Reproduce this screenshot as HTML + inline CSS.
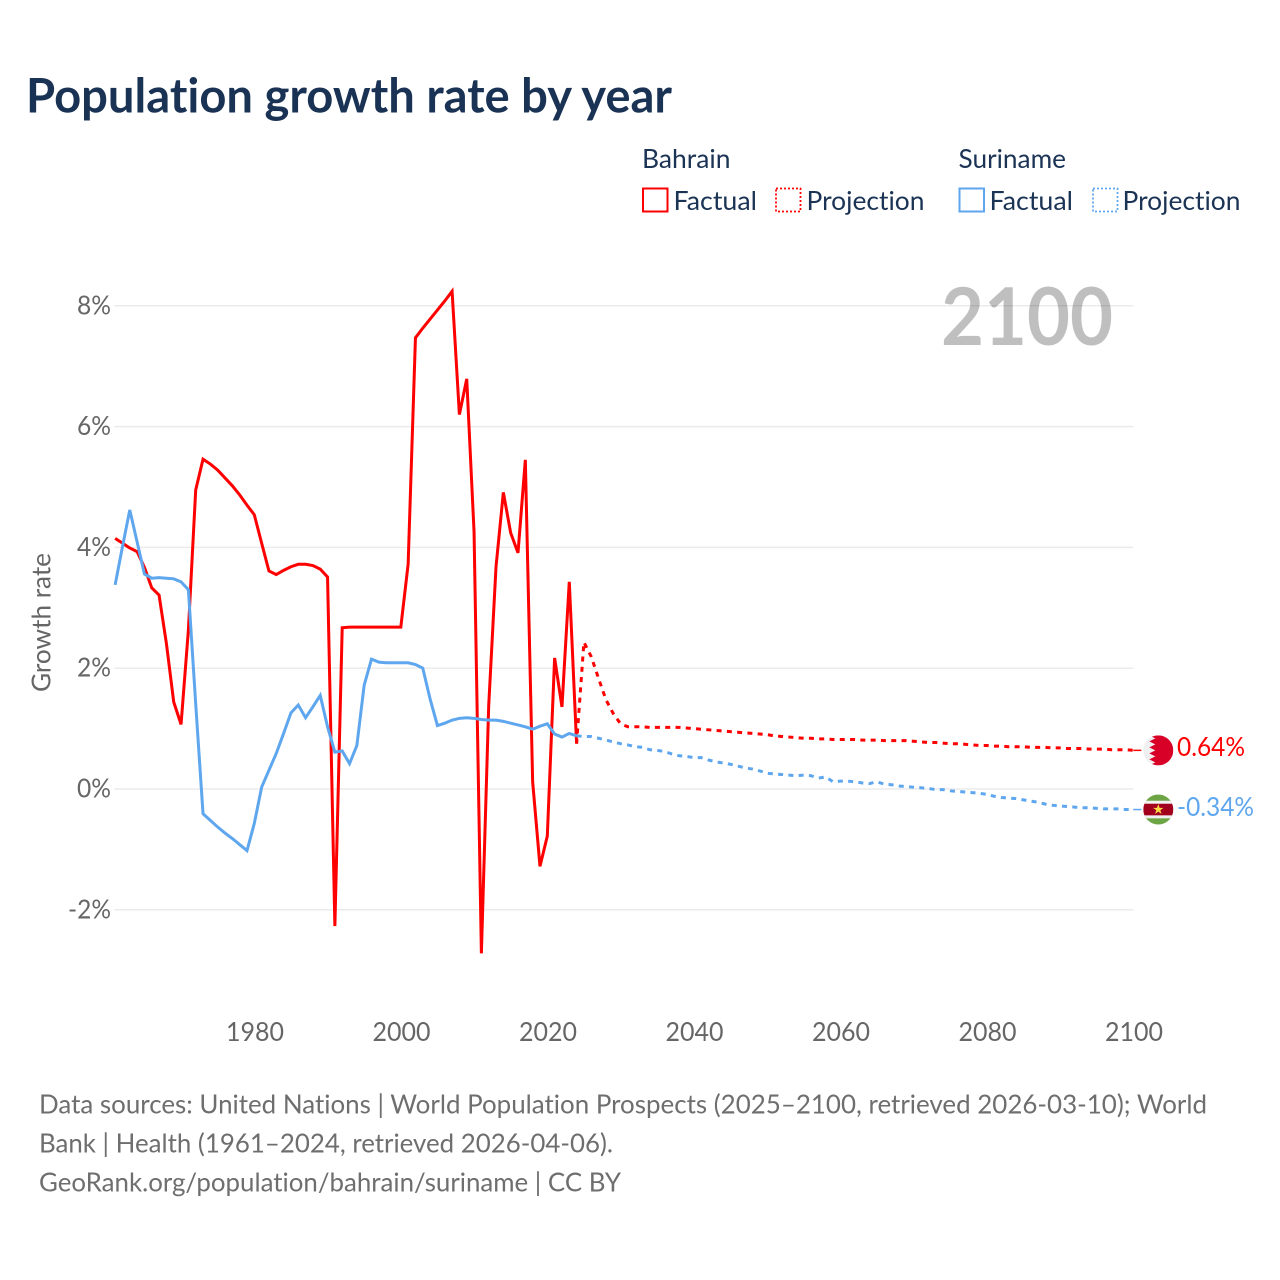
<!DOCTYPE html>
<html lang="en">
<head>
<meta charset="utf-8">
<title>Population growth rate by year</title>
<style>
html,body{margin:0;padding:0;background:#fff;}
svg{display:block;}
text{font-family:"Lato","Carlito","Liberation Sans",sans-serif;font-variant-ligatures:none;}
</style>
</head>
<body>
<svg id="chart" xmlns="http://www.w3.org/2000/svg" width="1280" height="1280" viewBox="0 0 1280 1280">
  <text x="26" y="112.500" font-size="48" font-weight="700" fill="#1a3355" textLength="646" lengthAdjust="spacingAndGlyphs">Population growth rate by year</text>

  <g font-size="26" fill="#1b3354">
    <text x="642" y="168" textLength="88.500" lengthAdjust="spacingAndGlyphs">Bahrain</text>
    <rect x="643" y="188.500" width="24.500" height="23" fill="none" stroke="#ff0000" stroke-width="2"/>
    <text x="673.500" y="210" textLength="83.500" lengthAdjust="spacingAndGlyphs">Factual</text>
    <rect x="776" y="188.500" width="24.500" height="23" fill="none" stroke="#ff0000" stroke-width="1.800" stroke-dasharray="2 2"/>
    <text x="806.500" y="210" textLength="118" lengthAdjust="spacingAndGlyphs">Projection</text>
    <text x="958.500" y="168" textLength="107.500" lengthAdjust="spacingAndGlyphs">Suriname</text>
    <rect x="959.500" y="188.500" width="24.500" height="23" fill="none" stroke="#5ea6ee" stroke-width="2"/>
    <text x="989.500" y="210" textLength="83.500" lengthAdjust="spacingAndGlyphs">Factual</text>
    <rect x="1093" y="188.500" width="24.500" height="23" fill="none" stroke="#5ea6ee" stroke-width="1.800" stroke-dasharray="2 2"/>
    <text x="1122.500" y="210" textLength="118" lengthAdjust="spacingAndGlyphs">Projection</text>
  </g>

  <g id="grid"></g>
  <g id="yticks"></g>
  <g id="xticks"></g>

  <text transform="translate(50.500 622.500) rotate(-90)" text-anchor="middle" font-size="26" fill="#666666" textLength="139" lengthAdjust="spacingAndGlyphs">Growth rate</text>
  <text x="941" y="345" font-size="80" font-weight="700" fill="#000000" fill-opacity="0.25" textLength="172" lengthAdjust="spacingAndGlyphs">2100</text>

  <g id="series"></g>
  <g id="endmarks"></g>

  <g font-size="26" fill="#6e6e6e">
    <text x="39" y="1113.500" textLength="1168" lengthAdjust="spacingAndGlyphs">Data sources: United Nations | World Population Prospects (2025–2100, retrieved 2026-03-10); World</text>
    <text x="39" y="1152.500" textLength="574" lengthAdjust="spacingAndGlyphs">Bank | Health (1961–2024, retrieved 2026-04-06).</text>
    <text x="39" y="1191.500" textLength="582" lengthAdjust="spacingAndGlyphs">GeoRank.org/population/bahrain/suriname | CC BY</text>
  </g>
</svg>
<script>
const yTickValues = [8, 6, 4, 2, 0, -2];
const xTickYears = [1980, 2000, 2020, 2040, 2060, 2080, 2100];

const factualStartYear = 1961;
const projectionStartYear = 2024;

const bahrainFactual = [
  4.15,4.07,3.99,3.93,3.67,3.33,3.21,2.41,1.44,1.07,
  2.63,4.95,5.46,5.38,5.28,5.15,5.02,4.87,4.70,4.54,
  4.07,3.61,3.55,3.62,3.68,3.72,3.72,3.70,3.64,3.51,
  -2.27,2.67,2.68,2.68,2.68,2.68,2.68,2.68,2.68,2.68,
  3.72,7.47,7.63,7.78,7.93,8.08,8.24,6.20,6.79,4.26,
  -2.72,1.38,3.68,4.91,4.24,3.91,5.45,0.12,-1.28,-0.78,
  2.17,1.36,3.43,0.75
];
const bahrainProjection = [
  0.75,2.43,2.19,1.83,1.48,1.25,1.08,
  1.03,1.03,1.03,1.02,1.02,1.02,1.02,1.02,1.01,1.00,
  0.99,0.98,0.97,0.96,0.95,0.94,0.93,0.92,0.91,0.90,
  0.88,0.87,0.86,0.85,0.84,0.84,0.83,0.83,0.82,0.82,
  0.82,0.82,0.81,0.81,0.81,0.80,0.80,0.80,0.80,0.79,
  0.78,0.77,0.77,0.76,0.75,0.75,0.74,0.73,0.72,0.72,
  0.71,0.71,0.70,0.70,0.70,0.69,0.69,0.69,0.68,0.68,
  0.67,0.67,0.67,0.66,0.66,0.66,0.65,0.65,0.65,0.64
];
const surinameFactual = [
  3.38,4.01,4.62,4.09,3.56,3.49,3.50,3.49,3.48,3.43,
  3.30,1.41,-0.41,-0.52,-0.63,-0.73,-0.82,-0.92,-1.02,-0.57,
  0.03,0.31,0.59,0.92,1.26,1.39,1.18,1.36,1.55,1.03,
  0.61,0.63,0.42,0.72,1.72,2.15,2.10,2.09,2.09,2.09,
  2.09,2.06,2.00,1.49,1.05,1.09,1.14,1.17,1.18,1.17,
  1.15,1.14,1.14,1.12,1.09,1.06,1.03,0.99,1.04,1.08,
  0.91,0.86,0.92,0.88
];
const surinameProjection = [
  0.88,0.87,0.87,0.84,0.81,0.78,0.75,
  0.73,0.70,0.69,0.65,0.64,0.62,0.58,0.55,0.54,0.52,
  0.52,0.48,0.45,0.43,0.41,0.38,0.35,0.33,0.30,0.26,
  0.25,0.24,0.23,0.22,0.23,0.22,0.18,0.20,0.12,0.13,
  0.13,0.12,0.10,0.09,0.12,0.08,0.07,0.05,0.04,0.03,
  0.02,0.01,-0.01,-0.01,-0.03,-0.04,-0.05,-0.06,-0.07,-0.09,
  -0.12,-0.14,-0.15,-0.16,-0.18,-0.20,-0.22,-0.25,-0.27,-0.28,
  -0.29,-0.30,-0.31,-0.31,-0.32,-0.33,-0.33,-0.33,-0.34,-0.34
];

const NS = 'http://www.w3.org/2000/svg';
const xScale = function (year) { return 254.3 + (year - 1980) * 7.325; };
const yScale = function (value) { return 789 - value * 60.4; };
const gridLeft = xScale(1961) - 1;
const gridRight = xScale(2100);

function make(tag, parent, attrs) {
  const el = document.createElementNS(NS, tag);
  for (const key in attrs) { el.setAttribute(key, attrs[key]); }
  parent.appendChild(el);
  return el;
}
function linePoints(values, startYear) {
  return values.map(function (v, i) {
    return xScale(startYear + i).toFixed(2) + ',' + yScale(v).toFixed(2);
  }).join(' ');
}

const gridGroup = document.getElementById('grid');
const yTickGroup = document.getElementById('yticks');
yTickValues.forEach(function (v) {
  const line = make('line', gridGroup, {x1: gridLeft, x2: gridRight, y1: yScale(v), y2: yScale(v), stroke: '#ebebeb', 'stroke-width': 1.5});
  
  
  const label = make('text', yTickGroup, {x: 111, y: yScale(v) + 8.5, 'text-anchor': 'end', 'font-size': 26, fill: '#666666', textLength: v < 0 ? 43 : 34, lengthAdjust: 'spacingAndGlyphs'});
  
  
  label.textContent = v + '%';
});

const xTickGroup = document.getElementById('xticks');
xTickYears.forEach(function (year) {
  const label = make('text', xTickGroup, {x: xScale(year) + 0.7, y: 1041, 'text-anchor': 'middle', 'font-size': 26, fill: '#666666', textLength: 58, lengthAdjust: 'spacingAndGlyphs'});
  
  
  label.textContent = String(year);
});

const seriesGroup = document.getElementById('series');
const bahrainProjLine = make('polyline', seriesGroup, {points: linePoints(bahrainProjection, projectionStartYear), fill: 'none', stroke: '#ff0000', 'stroke-width': 3, 'stroke-dasharray': '5 5.3'});


const bahrainLine = make('polyline', seriesGroup, {points: linePoints(bahrainFactual, factualStartYear), fill: 'none', stroke: '#ff0000', 'stroke-width': 3});


const surinameProjLine = make('polyline', seriesGroup, {points: linePoints(surinameProjection, projectionStartYear), fill: 'none', stroke: '#5ea6ee', 'stroke-width': 3, 'stroke-dasharray': '5 5.3'});


const surinameLine = make('polyline', seriesGroup, {points: linePoints(surinameFactual, factualStartYear), fill: 'none', stroke: '#5ea6ee', 'stroke-width': 3});



const endGroup = document.getElementById('endmarks');
const bahrainEnd = bahrainProjection[bahrainProjection.length - 1];
const surinameEnd = surinameProjection[surinameProjection.length - 1];
const flagX = 1158.3;
const flagR = 15;

const bahrainConn = make('line', endGroup, {x1: gridRight, x2: flagX - 17, y1: yScale(bahrainEnd), y2: yScale(bahrainEnd), stroke: '#ff0000', 'stroke-width': 1.5});


const surinameConn = make('line', endGroup, {x1: gridRight, x2: flagX - 17, y1: yScale(surinameEnd), y2: yScale(surinameEnd), stroke: '#5ea6ee', 'stroke-width': 1.5});



const defs = make('defs', endGroup, {});
const clipB = make('clipPath', defs, {id: 'clip-bahrain'});
make('circle', clipB, {cx: flagX, cy: yScale(bahrainEnd), r: flagR});
const clipS = make('clipPath', defs, {id: 'clip-suriname'});
make('circle', clipS, {cx: flagX, cy: yScale(surinameEnd), r: flagR});

const flagB = make('g', endGroup, {'clip-path': 'url(#clip-bahrain)'});


const by = yScale(bahrainEnd);
make('rect', flagB, {x: flagX - flagR, y: by - flagR, width: 2 * flagR, height: 2 * flagR, fill: '#f0f0f0'});
const zig = [];
const zigCount = 5;
zig.push((flagX + flagR) + ',' + (by - flagR));
for (let i = 0; i < zigCount; i++) {
  const top = by - flagR + i * (2 * flagR / zigCount);
  zig.push((flagX - 9) + ',' + top);
  zig.push((flagX - 3) + ',' + (top + flagR / zigCount));
}
zig.push((flagX - 9) + ',' + (by + flagR));
zig.push((flagX + flagR) + ',' + (by + flagR));
make('polygon', flagB, {points: zig.join(' '), fill: '#d80027'});

const flagS = make('g', endGroup, {'clip-path': 'url(#clip-suriname)'});


const sy = yScale(surinameEnd);
make('rect', flagS, {x: flagX - flagR, y: sy - flagR, width: 2 * flagR, height: 2 * flagR, fill: '#6da544'});
make('rect', flagS, {x: flagX - flagR, y: sy - 8.8, width: 2 * flagR, height: 17.6, fill: '#f0f0f0'});
make('rect', flagS, {x: flagX - flagR, y: sy - 5.8, width: 2 * flagR, height: 11.6, fill: '#a2001d'});
make('polygon', flagS, {points: [
  [0,-5.500],[1.300,-1.700],[5.200,-1.700],[2.050,0.650],[3.250,4.450],[0,2.100],[-3.250,4.450],[-2.050,0.650],[-5.200,-1.700],[-1.300,-1.700]
].map(function (p) { return (flagX + p[0]) + ',' + (sy + p[1]); }).join(' '), fill: '#ffda44'});

const bahrainLabel = make('text', endGroup, {x: 1177, y: yScale(bahrainEnd) + 5.5, 'font-size': 26, fill: '#ff0000', textLength: 68, lengthAdjust: 'spacingAndGlyphs'});


bahrainLabel.textContent = bahrainEnd.toFixed(2) + '%';
const surinameLabel = make('text', endGroup, {x: 1177, y: yScale(surinameEnd) + 6.5, 'font-size': 26, fill: '#5ea6ee', textLength: 77, lengthAdjust: 'spacingAndGlyphs'});


surinameLabel.textContent = surinameEnd.toFixed(2) + '%';
</script>
</body>
</html>
